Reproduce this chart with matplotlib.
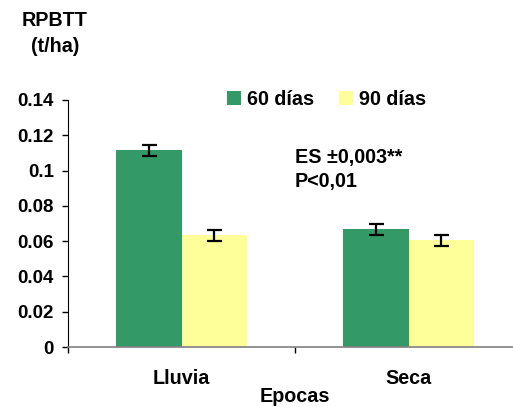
import matplotlib
matplotlib.use("Agg")
import matplotlib.pyplot as plt
import numpy as np

plt.rcParams['font.family'] = ['Liberation Sans', 'DejaVu Sans']

categories = ["Lluvia", "Seca"]
series_names = ["60 días", "90 días"]
vals_60 = [0.1115, 0.0667]
vals_90 = [0.0633, 0.0605]
err = [0.003, 0.003]
yticks = [0, 0.02, 0.04, 0.06, 0.08, 0.1, 0.12, 0.14]
ytick_labels = ["0", "0.02", "0.04", "0.06", "0.08", "0.1", "0.12", "0.14"]

W, H = 513, 407
fig = plt.figure(figsize=(W/100, H/100), dpi=100)
ax = fig.add_axes([68/W, (H-347)/H, (522-68)/W, (347-100)/H])

FS = 14.2
x = np.arange(len(categories)) + 0.5
bw = 0.287
c60, c90 = "#339966", "#FFFF99"
ax.bar(x - bw/2, vals_60, bw, color=c60, label=series_names[0], zorder=2)
ax.bar(x + bw/2, vals_90, bw, color=c90, label=series_names[1], zorder=2)
ekw = dict(fmt='none', ecolor='black', elinewidth=1.6, capsize=5.4, capthick=1.6, zorder=3)
ax.errorbar(x - bw/2, vals_60, yerr=err, **ekw)
ax.errorbar(x + bw/2, vals_90, yerr=err, **ekw)

ax.set_xlim(0, 2)
ax.set_ylim(0, 0.14)
ax.set_yticks(yticks)
ax.set_yticklabels(ytick_labels, fontsize=13.5, fontweight='bold')
ax.tick_params(axis='y', length=4, width=1, pad=6, direction='out')

ax.set_xticks([0, 1, 2])
ax.set_xticklabels([])
ax.tick_params(axis='x', which='major', length=4, width=1, direction='out', color='black')
ax.set_xticks(x, minor=True)
ax.set_xticklabels(categories, minor=True, fontsize=FS, fontweight='bold')
ax.tick_params(axis='x', which='minor', length=0, pad=16)

for s in ['top', 'right']:
    ax.spines[s].set_visible(False)
ax.spines['left'].set_color('black')
ax.spines['bottom'].set_color('#808080')
ax.spines['bottom'].set_linewidth(1.2)

fig.text(55/W, 1 - 21/H, "RPBTT", ha='center', va='center', fontsize=FS, fontweight='bold')
fig.text(55/W, 1 - 46/H, "(t/ha)", ha='center', va='center', fontsize=FS, fontweight='bold')
fig.text(295/W, 1 - 397/H, "Epocas", ha='center', va='center', fontsize=FS, fontweight='bold')

ax.legend(loc='upper left', bbox_to_anchor=((213-68)/(522-68), 1 + (100-76)/247),
          ncol=2, frameon=False, prop={'weight': 'bold', 'size': FS},
          handlelength=0.7, handleheight=0.7, handletextpad=0.3, columnspacing=1.3,
          borderpad=0.2)

ax.text((295-68)/(522-68)*2, 0.14*(347-158)/247, "ES \u00b10,003**", ha='left', va='center',
        fontsize=FS, fontweight='bold', transform=ax.transData)
ax.text((295-68)/(522-68)*2, 0.14*(347-182)/247, "P<0,01", ha='left', va='center',
        fontsize=FS, fontweight='bold', transform=ax.transData)

fig.savefig("out.png", dpi=100)
